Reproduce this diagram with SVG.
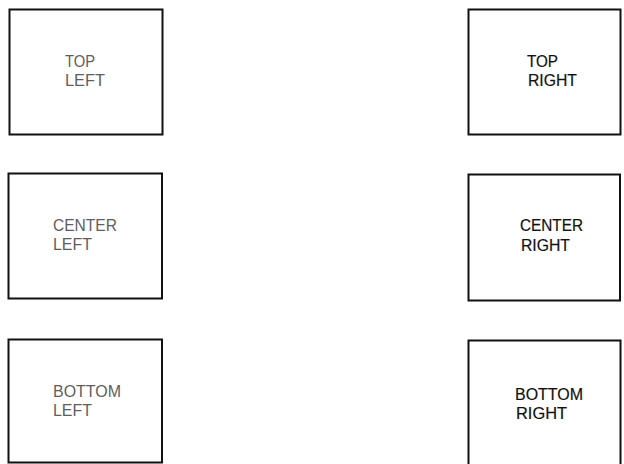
<svg xmlns="http://www.w3.org/2000/svg" width="624" height="464" viewBox="0 0 624 464">
  <style>
    .box { fill: #ffffff; stroke: #111111; stroke-width: 2; }
    .lbl { font-family: "Liberation Sans", Arial, sans-serif; font-size: 16.5px; }
    .gray { fill: #5e5e5e; }
    .dark { fill: #111111; stroke: #111111; stroke-width: 0.2; }
  </style>
  <rect width="624" height="464" fill="#ffffff"/>
  <g id="top-left">
    <rect class="box" x="9.5" y="9.5" width="153" height="125"/>
    <text class="lbl gray" x="65" y="66.5" textLength="30" lengthAdjust="spacingAndGlyphs">TOP</text>
    <text class="lbl gray" x="65" y="85.5" textLength="40" lengthAdjust="spacingAndGlyphs">LEFT</text>
  </g>
  <g id="top-right">
    <rect class="box" x="468.5" y="9.5" width="152" height="125"/>
    <text class="lbl dark" x="527" y="66.5" textLength="31" lengthAdjust="spacingAndGlyphs">TOP</text>
    <text class="lbl dark" x="528" y="85.5" textLength="49" lengthAdjust="spacingAndGlyphs">RIGHT</text>
  </g>
  <g id="center-left">
    <rect class="box" x="8.5" y="173.5" width="153.5" height="125"/>
    <text class="lbl gray" x="53" y="231" textLength="64" lengthAdjust="spacingAndGlyphs">CENTER</text>
    <text class="lbl gray" x="53" y="250" textLength="39" lengthAdjust="spacingAndGlyphs">LEFT</text>
  </g>
  <g id="center-right">
    <rect class="box" x="468.5" y="174.5" width="151.5" height="126"/>
    <text class="lbl dark" x="520" y="231" textLength="63" lengthAdjust="spacingAndGlyphs">CENTER</text>
    <text class="lbl dark" x="521" y="251" textLength="49" lengthAdjust="spacingAndGlyphs">RIGHT</text>
  </g>
  <g id="bottom-left">
    <rect class="box" x="8.5" y="339.5" width="153.5" height="123"/>
    <text class="lbl gray" x="53" y="397" textLength="68" lengthAdjust="spacingAndGlyphs">BOTTOM</text>
    <text class="lbl gray" x="53" y="416" textLength="39" lengthAdjust="spacingAndGlyphs">LEFT</text>
  </g>
  <g id="bottom-right">
    <rect class="box" x="468.5" y="340.5" width="152" height="126"/>
    <text class="lbl dark" x="515" y="400" textLength="68" lengthAdjust="spacingAndGlyphs">BOTTOM</text>
    <text class="lbl dark" x="516" y="419" textLength="51" lengthAdjust="spacingAndGlyphs">RIGHT</text>
  </g>
  <g id="connectors"></g>
</svg>
